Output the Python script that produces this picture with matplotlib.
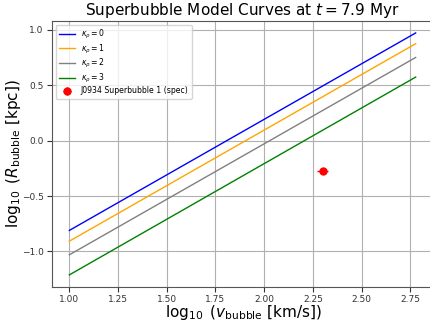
import numpy as np
import matplotlib
matplotlib.use("Agg")
import matplotlib.pyplot as plt

# data
log_v = [1.0, 2.778]
kappa = [0, 1, 2, 3]
log_R = {
    0: [-0.81, 0.97],
    1: [-0.907, 0.873],
    2: [-1.03, 0.749],
    3: [-1.211, 0.572],
}
colors = ["blue", "orange", "gray", "green"]
obs_x = [2.30]
obs_y = [-0.276]
obs_xerr = [0.028]
obs_yerr = [0.0]
obs_label = "J0934 Superbubble 1 (spec)"

fig = plt.figure(figsize=(4.30, 3.31), dpi=100)
ax = fig.add_axes([0.121, 0.133, 0.886, 0.804])

for k, c in zip(kappa, colors):
    ax.plot(log_v, log_R[k], color=c, lw=1.0, label=r"$\kappa_\rho=%d$" % k)

ax.errorbar(obs_x, obs_y, xerr=obs_xerr, yerr=obs_yerr, fmt="o", color="red",
            markersize=5, elinewidth=1, label=obs_label)

ax.set_xlim(0.911, 2.867)
ax.set_ylim(-1.32, 1.079)
ax.set_xticks([1.0, 1.25, 1.5, 1.75, 2.0, 2.25, 2.5, 2.75])
ax.set_yticks([-1.0, -0.5, 0.0, 0.5, 1.0])
ax.tick_params(labelsize=6.5, colors="#333333", pad=2.5)
for s in ax.spines.values():
    s.set_color("#555555")
ax.grid(True, color="#b0b0b0", lw=0.8)
ax.set_axisbelow(True)

ax.set_title(r"Superbubble Model Curves at $t=7.9$ Myr", fontsize=11, pad=4)
ax.set_xlabel(r"$\log_{10}\ (v_{\rm bubble}\ [{\rm km/s}])$", fontsize=11)
ax.set_ylabel(r"$\log_{10}\ (R_{\rm bubble}\ [{\rm kpc}])$", fontsize=11)
ax.xaxis.set_label_coords(0.504, -0.062)
ax.yaxis.set_label_coords(-0.075, 0.5)
ax.legend(loc="upper left", fontsize=5.6, labelspacing=0.2)

fig.savefig("out.png", dpi=100)
